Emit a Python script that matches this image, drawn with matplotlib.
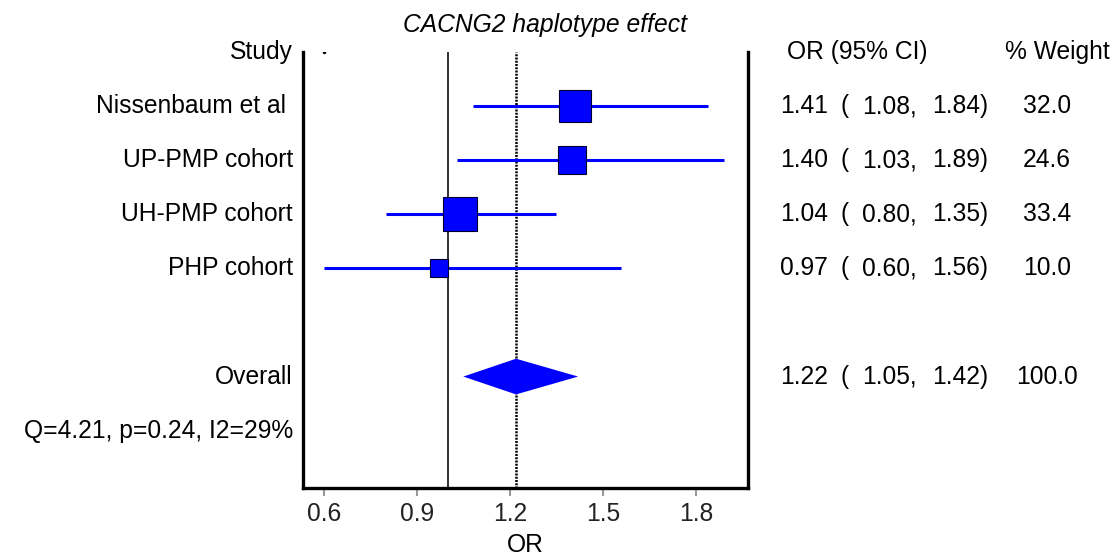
import numpy as np
import matplotlib
matplotlib.use('Agg')
import matplotlib.pyplot as plt
import matplotlib.transforms as mtransforms

plt.rcParams['font.family'] = ['Liberation Sans', 'DejaVu Sans']

#%% data
studies = ['Nissenbaum et al ', 'UP-PMP cohort', 'UH-PMP cohort', 'PHP cohort']
or_est = [1.41, 1.40, 1.04, 0.97]
ci_lo = [1.08, 1.03, 0.80, 0.60]
ci_hi = [1.84, 1.89, 1.35, 1.56]
weights = [32.0, 24.6, 33.4, 10.0]
overall_est, overall_lo, overall_hi = 1.22, 1.05, 1.42
het_text = 'Q=4.21, p=0.24, I2=29%'
xticks = [0.6, 0.9, 1.2, 1.5, 1.8]

#%% layout
W, H = 1118, 557
fig = plt.figure(figsize=(W / 100, H / 100), dpi=100)
ax = fig.add_axes([302.7 / W, 1 - 488 / H, (748 - 302.7) / W, (488 - 52) / H])
ax.set_xlim(0.532, 1.968)
ax.set_ylim(8.06, 0)

rows = np.arange(1, len(studies) + 1)
overall_row = 6
het_row = 7
fs = 17.7

# reference lines
ax.axvline(1.0, color='#222222', lw=1.3, zorder=1)
ax.axvline(overall_est, color='black', lw=1.8, ls=(0, (0.8, 0.5)), zorder=1)
ax.plot([0.6], [0], marker='.', color='black', ms=3)

# studies
for r, e, lo, hi, w in zip(rows, or_est, ci_lo, ci_hi, weights):
    ax.plot([lo, hi], [r, r], color='#0000ff', lw=2.2, zorder=2, solid_capstyle='butt')
    side = 5.8 * np.sqrt(w) * 0.72
    ax.plot([e], [r], marker='s', ms=side, color='#0000ff', mec='#000030', mew=0.8, zorder=3)

# overall diamond
h = 0.33
ax.fill([overall_lo, overall_est, overall_hi, overall_est],
        [overall_row, overall_row - h, overall_row, overall_row + h],
        color='#0000ff', lw=0, zorder=3)

# axes styling
ax.spines['top'].set_visible(False)
for s in ['left', 'right', 'bottom']:
    ax.spines[s].set_linewidth(2.4)
ax.set_yticks([])
ax.set_xticks(xticks)
ax.set_xticklabels([f'{t:.1f}' for t in xticks], fontsize=fs, color='#222222')
ax.tick_params(axis='x', direction='out', length=6, width=1.5, color='#999999', pad=4)
ax.set_xlabel('OR', fontsize=fs, va='center')
ax.xaxis.set_label_coords(0.5, -(545 - 488) / 436)

# text columns
trans = mtransforms.blended_transform_factory(fig.transFigure, ax.transData)
lx = 293 / W
ax.text(lx, 0, 'Study', transform=trans, ha='right', va='center', fontsize=fs, clip_on=False)
for r, name in zip(rows, studies):
    ax.text(lx, r, name, transform=trans, ha='right', va='center', fontsize=fs, clip_on=False)
ax.text(lx, overall_row, 'Overall', transform=trans, ha='right', va='center', fontsize=fs, clip_on=False)
ax.text(lx, het_row, het_text, transform=trans, ha='right', va='center', fontsize=fs, clip_on=False)

ax.text(787 / W, 0, 'OR (95% CI)', transform=trans, ha='left', va='center', fontsize=fs, clip_on=False)
ax.text(1005 / W, 0, '% Weight', transform=trans, ha='left', va='center', fontsize=fs, clip_on=False)

all_rows = list(rows) + [overall_row]
all_est = or_est + [overall_est]
all_lo = ci_lo + [overall_lo]
all_hi = ci_hi + [overall_hi]
all_w = weights + [100.0]
for r, e, lo, hi, w in zip(all_rows, all_est, all_lo, all_hi, all_w):
    ax.text(780 / W, r, f'{e:.2f}', transform=trans, ha='left', va='center', fontsize=fs, clip_on=False)
    ax.text(841 / W, r, '(', transform=trans, ha='left', va='center', fontsize=fs, clip_on=False)
    ax.text(862 / W, r, f'{lo:.2f},', transform=trans, ha='left', va='center', fontsize=fs, clip_on=False)
    ax.text(932 / W, r, f'{hi:.2f})', transform=trans, ha='left', va='center', fontsize=fs, clip_on=False)
    ax.text(1047 / W, r, f'{w:.1f}', transform=trans, ha='center', va='center', fontsize=fs, clip_on=False)

fig.text(545 / W, 1 - 25 / H, 'CACNG2 haplotype effect', ha='center', va='center',
         fontsize=fs, style='italic')

plt.savefig('out.png', dpi=100)
